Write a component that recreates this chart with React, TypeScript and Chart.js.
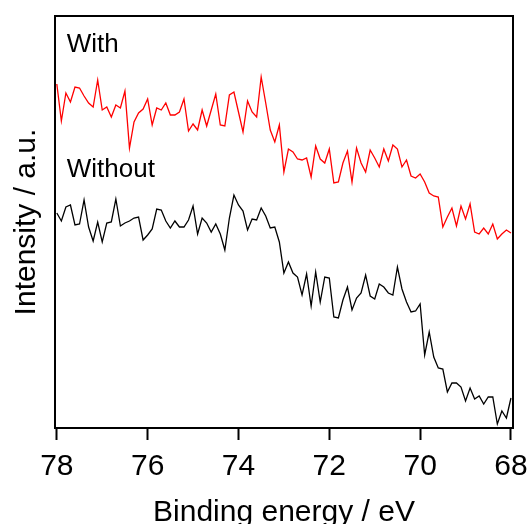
import React, { useEffect, useRef } from "react";
import { Chart, registerables } from "chart.js";

Chart.register(...registerables);

// Binding energy grid (eV), 0.1 eV steps from 78 to 68
const energy = [
  78.0, 77.9, 77.8, 77.7, 77.6, 77.5, 77.4, 77.3, 77.2, 77.1,
  77.0, 76.9, 76.8, 76.7, 76.6, 76.5, 76.4, 76.3, 76.2, 76.1,
  76.0, 75.9, 75.8, 75.7, 75.6, 75.5, 75.4, 75.3, 75.2, 75.1,
  75.0, 74.9, 74.8, 74.7, 74.6, 74.5, 74.4, 74.3, 74.2, 74.1,
  74.0, 73.9, 73.8, 73.7, 73.6, 73.5, 73.4, 73.3, 73.2, 73.1,
  73.0, 72.9, 72.8, 72.7, 72.6, 72.5, 72.4, 72.3, 72.2, 72.1,
  72.0, 71.9, 71.8, 71.7, 71.6, 71.5, 71.4, 71.3, 71.2, 71.1,
  71.0, 70.9, 70.8, 70.7, 70.6, 70.5, 70.4, 70.3, 70.2, 70.1,
  70.0, 69.9, 69.8, 69.7, 69.6, 69.5, 69.4, 69.3, 69.2, 69.1,
  69.0, 68.9, 68.8, 68.7, 68.6, 68.5, 68.4, 68.3, 68.2, 68.1,
  68.0,
];

// Intensity (a.u.), "With" spectrum (red, offset upward)
const withIntensity = [
  344, 307, 335, 326, 341, 340, 332, 325, 321, 348,
  318, 321, 311, 323, 320, 337, 280, 306, 315, 319,
  329, 303, 320, 318, 325, 313, 313, 316, 329, 297,
  304, 298, 318, 302, 318, 334, 303, 302, 333, 336,
  316, 296, 327, 316, 311, 351, 325, 298, 286, 303,
  256, 279, 276, 269, 268, 270, 251, 282, 269, 265,
  279, 245, 246, 265, 277, 246, 280, 265, 256, 278,
  270, 261, 279, 267, 283, 279, 261, 268, 252, 250,
  254, 246, 235, 232, 231, 201, 211, 220, 202, 222,
  209, 224, 196, 194, 200, 194, 204, 189, 194, 198,
  195,
];

// Intensity (a.u.), "Without" spectrum (black)
const withoutIntensity = [
  215, 207, 221, 223, 203, 204, 228, 201, 187, 206,
  186, 205, 206, 229, 202, 205, 207, 210, 211, 188,
  193, 199, 219, 218, 207, 200, 207, 201, 201, 208,
  222, 194, 210, 205, 196, 204, 194, 178, 210, 233,
  223, 217, 198, 209, 208, 220, 212, 200, 201, 186,
  155, 166, 155, 151, 133, 154, 122, 156, 126, 151,
  150, 111, 110, 128, 141, 118, 130, 135, 153, 132,
  129, 144, 141, 135, 133, 161, 139, 126, 116, 117,
  124, 73, 96, 71, 60, 59, 36, 45, 45, 41,
  27, 40, 29, 32, 24, 31, 31, 4, 17, 10,
  30,
];

const xTicks = [78, 76, 74, 72, 70, 68];
const seriesNames = ["With", "Without"];
// label anchor points in data coordinates (energy, intensity)
const labelEnergy = [77.78, 77.78];
const labelIntensity = [376, 251];

const FONT = "Arial, 'Liberation Sans', Helvetica, sans-serif";

export default function App() {
  const ref = useRef<HTMLCanvasElement | null>(null);

  useEffect(() => {
    if (!ref.current) return;

    const framePlugin = {
      id: "frameAndLabels",
      afterDraw(chart: any) {
        const { ctx, chartArea } = chart;
        const xs = chart.scales.x;
        const ys = chart.scales.y;
        ctx.save();
        ctx.strokeStyle = "#000";
        ctx.lineWidth = 2;
        ctx.strokeRect(
          chartArea.left,
          chartArea.top,
          chartArea.right - chartArea.left,
          chartArea.bottom - chartArea.top
        );
        ctx.fillStyle = "#000";
        ctx.font = `26px ${FONT}`;
        ctx.textAlign = "left";
        ctx.textBaseline = "alphabetic";
        seriesNames.forEach((name, i) => {
          ctx.fillText(
            name,
            xs.getPixelForValue(labelEnergy[i]),
            ys.getPixelForValue(labelIntensity[i])
          );
        });
        ctx.restore();
      },
    };

    const chart = new Chart(ref.current, {
      type: "line",
      data: {
        datasets: [
          {
            label: seriesNames[0],
            data: energy.map((e, i) => ({ x: e, y: withIntensity[i] })),
            borderColor: "#ff0000",
            borderWidth: 1.3,
            pointRadius: 0,
            tension: 0,
            fill: false,
          },
          {
            label: seriesNames[1],
            data: energy.map((e, i) => ({ x: e, y: withoutIntensity[i] })),
            borderColor: "#000000",
            borderWidth: 1.3,
            pointRadius: 0,
            tension: 0,
            fill: false,
          },
        ],
      },
      options: {
        responsive: false,
        animation: false,
        devicePixelRatio: 1,
        layout: { padding: { top: 16, right: 18, left: 0, bottom: 0 } },
        plugins: {
          legend: { display: false },
          tooltip: { enabled: false },
          title: { display: false },
        },
        scales: {
          x: {
            type: "linear",
            reverse: true,
            min: 67.955,
            max: 78.04,
            afterBuildTicks: (scale: any) => {
              scale.ticks = xTicks.map((v) => ({ value: v }));
            },
            afterFit: (scale: any) => {
              scale.height = 96;
              scale.paddingLeft = 0;
              scale.paddingRight = 0;
            },
            grid: {
              display: true,
              drawOnChartArea: false,
              drawTicks: true,
              tickLength: 12,
              tickWidth: 2,
              tickColor: "#000",
            },
            border: { display: true, color: "#000", width: 2 },
            ticks: {
              color: "#000",
              font: { family: FONT, size: 30 },
              padding: 9,
              maxRotation: 0,
              autoSkip: false,
              callback: (v: any) => String(v),
            },
            title: {
              display: true,
              text: "Binding energy / eV",
              color: "#000",
              font: { family: FONT, size: 30 },
              padding: { top: 0, bottom: -7 },
            },
          },
          y: {
            type: "linear",
            min: 0,
            max: 412,
            afterFit: (scale: any) => {
              scale.width = 55;
            },
            grid: { display: false },
            border: { display: true, color: "#000", width: 2 },
            ticks: { display: false },
            title: {
              display: true,
              text: "Intensity / a.u.",
              color: "#000",
              font: { family: FONT, size: 30 },
              padding: { top: 9, bottom: 0 },
            },
          },
        },
      },
      plugins: [framePlugin],
    });

    return () => chart.destroy();
  }, []);

  return (
    <div
      style={{
        position: "absolute",
        left: 0,
        top: 0,
        width: 531,
        height: 524,
        background: "#fff",
      }}
    >
      <canvas ref={ref} width={531} height={524} />
    </div>
  );
}
